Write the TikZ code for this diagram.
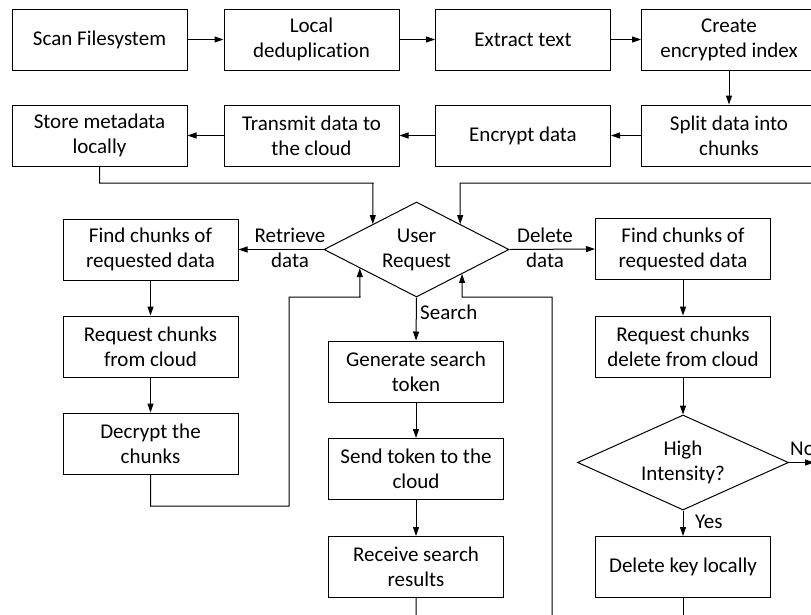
\documentclass[tikz,border=0pt]{standalone}
\usepackage{fontspec}
\setmainfont{Carlito}[Ligatures={NoCommon}]
\usetikzlibrary{shapes.geometric,arrows.meta,calc}
\begin{document}
\begin{tikzpicture}[x=1pt,y=-1pt,
  every node/.style={font=\fontsize{21}{25}\selectfont},
  box/.style={draw, line width=1pt, minimum width=175pt, minimum height=61pt, inner sep=2pt, align=center},
  dia/.style={draw, diamond, line width=1pt, inner sep=0pt, align=center},
  arr/.style={line width=1pt, -{Triangle[length=9pt,width=6pt]}},
  ln/.style={line width=1pt},
  lbl/.style={align=center, inner sep=0pt}]
\useasboundingbox (0,0) rectangle (811,614);
\fill[white] (0,0) rectangle (811,614);
\clip (0,0) rectangle (811,614);
% top rows
\node[box] (scan) at (99.5,39.5) {Scan Filesystem};
\node[box] (dedup) at (311.5,39.5) {Local\\deduplication};
\node[box] (extract) at (523,39.5) {Extract text};
\node[box] (create) at (729,39.5) {Create\\encrypted index};
\node[box] (store) at (99.5,135.5) {Store metadata\\locally};
\node[box] (transmit) at (311.5,135.5) {Transmit data to\\the cloud};
\node[box] (encrypt) at (523,135.5) {Encrypt data};
\node[box] (split) at (729,135.5) {Split data into\\chunks};
% decision
\node[dia, minimum width=185pt, minimum height=95pt, aspect=2] (ur) at (416.5,249.5) {User\\Request};
% left column
\node[box] (findL) at (150.5,249.5) {Find chunks of\\requested data};
\node[box] (reqL) at (150.5,346.5) {Request chunks\\from cloud};
\node[box] (decrypt) at (150.5,443.5) {Decrypt the\\chunks};
% middle column
\node[box] (gen) at (416,371.5) {Generate search\\token};
\node[box] (send) at (416,469) {Send token to the\\cloud};
\node[box] (recv) at (416,567) {Receive search\\results};
% right column
\node[box] (findR) at (683,249) {Find chunks of\\requested data};
\node[box] (reqR) at (683,346.5) {Request chunks\\delete from cloud};
\node[dia, minimum width=211pt, minimum height=95pt, aspect=2.3] (hi) at (683,462.5) {High\\Intensity?};
\node[box] (del) at (683,567) {Delete key locally};
% labels
\node[lbl] (lret) at (290,248) {Retrieve\\data};
\node[lbl] (ldel) at (545,248) {Delete\\data};
\node[lbl, anchor=west] (lsearch) at (420,312) {Search};
\node[lbl, anchor=west] (lyes) at (695,522) {Yes};
\node[lbl, anchor=west] (lno) at (790,449) {No};
% off-canvas coordinates
\coordinate (offR) at (840,183);
\coordinate (offNo) at (814,462.5);
\coordinate (offDel) at (683,640);
% connectors
\draw[arr] (scan) -- (dedup);
\draw[arr] (dedup) -- (extract);
\draw[arr] (extract) -- (create);
\draw[arr] (create) -- (split);
\draw[arr] (split) -- (encrypt);
\draw[arr] (encrypt) -- (transmit);
\draw[arr] (transmit) -- (store);
\draw[arr] (store.south) |- (373,183) -- ($(ur.west)!0.53!(ur.north)$);
\draw[arr] (offR) -- (460,183) -- ($(ur.north)!0.47!(ur.east)$);
\draw[arr] (ur.west) -- (findL.east);
\draw[arr] (ur.east) -- (findR.west);
\draw[arr] (ur.south) -- (gen.north);
\draw[arr] (findL) -- (reqL);
\draw[arr] (reqL) -- (decrypt);
\draw[arr] (decrypt.south) -- (150.5,506) -| (289,297) -- (360,297) -- ($(ur.west)!0.39!(ur.south)$);
\draw[arr] (gen) -- (send);
\draw[arr] (send) -- (recv);
\draw[arr] (recv.south) -- (416,640) -| (552,297) -- (462,297) -- ($(ur.south)!0.49!(ur.east)$);
\draw[arr] (findR) -- (reqR);
\draw[arr] (reqR) -- (hi);
\draw[arr] (hi) -- (del);
\draw[arr] (hi.east) -- (offNo);
\draw[ln] (del.south) -- (offDel);
\end{tikzpicture}
\end{document}
